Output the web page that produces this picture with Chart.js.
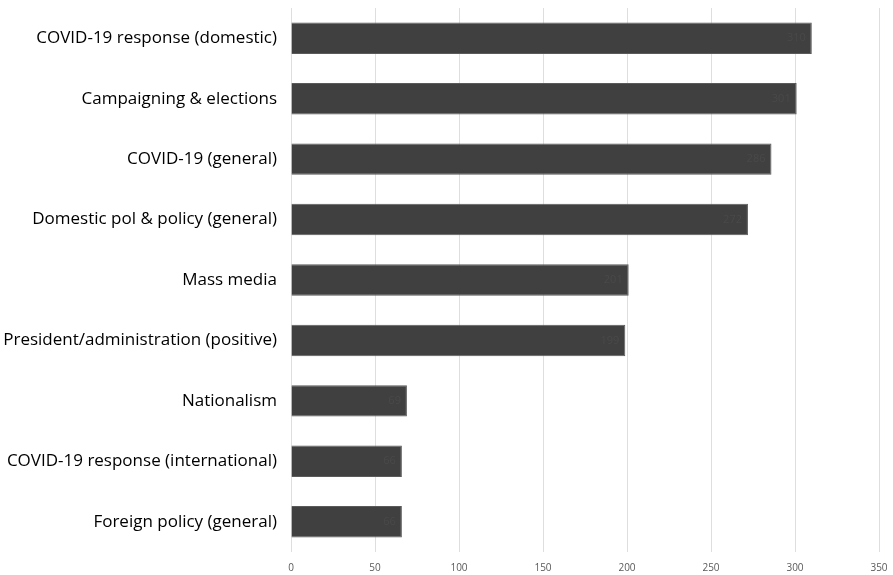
<!DOCTYPE html>
<html>
<head>
<meta charset="utf-8">
<script src="https://cdn.jsdelivr.net/npm/chart.js@4"></script>
<style>
  html, body { margin: 0; padding: 0; background: #fff; }
  #wrap { width: 893px; height: 575px; }
</style>
</head>
<body>
<div id="wrap"><canvas id="chart"></canvas></div>
<script>
const categories = [
    "COVID-19 response (domestic)",
    "Campaigning & elections",
    "COVID-19 (general)",
    "Domestic pol & policy (general)",
    "Mass media",
    "President/administration (positive)",
    "Nationalism",
    "COVID-19 response (international)",
    "Foreign policy (general)"
];
const counts = [310, 301, 286, 272, 201, 199, 69, 66, 66];
const xTicks = [0, 50, 100, 150, 200, 250, 300, 350];

// faint value labels drawn inside the bar ends
const barLabels = {
    id: "barLabels",
    afterDatasetsDraw(chart) {
        const ctx = chart.ctx;
        const meta = chart.getDatasetMeta(0);
        ctx.save();
        ctx.font = "11px 'Open Sans'";
        ctx.fillStyle = "#494949";
        ctx.textAlign = "right";
        ctx.textBaseline = "middle";
        meta.data.forEach((bar, i) => {
            ctx.fillText(counts[i], bar.x - 6, bar.y);
        });
        ctx.restore();
    }
};

new Chart(document.getElementById("chart").getContext("2d"), {
    type: "bar",
    data: {
        labels: categories,
        datasets: [{
            data: counts,
            backgroundColor: "#404040",
            borderColor: "#5a5a5a",
            borderWidth: 1,
            barPercentage: 0.52,
            categoryPercentage: 1
        }]
    },
    options: {
        indexAxis: "y",
        responsive: true,
        maintainAspectRatio: false,
        animation: false,
        layout: { padding: { top: 8, right: 14, bottom: -9, left: 0 } },
        plugins: { legend: { display: false }, tooltip: { enabled: false } },
        scales: {
            x: {
                min: 0,
                max: 350,
                afterBuildTicks: axis => { axis.ticks = xTicks.map(v => ({ value: v })); },
                afterFit: axis => {
                    axis.paddingLeft = 0;
                    axis.paddingRight = 0;
                },
                grid: { color: "#dedede", lineWidth: 1, drawTicks: false },
                border: { display: false },
                ticks: { color: "#595959", font: { family: "'Open Sans'", size: 10 }, padding: 10 }
            },
            y: {
                grid: { display: false },
                border: { display: false },
                afterFit: axis => {
                    axis.width = 291;
                    axis.paddingTop = 0;
                    axis.paddingBottom = 0;
                },
                ticks: { color: "#000", font: { family: "'Open Sans'", size: 17 }, padding: 6 }
            }
        }
    },
    plugins: [barLabels]
});
</script>
</body>
</html>
